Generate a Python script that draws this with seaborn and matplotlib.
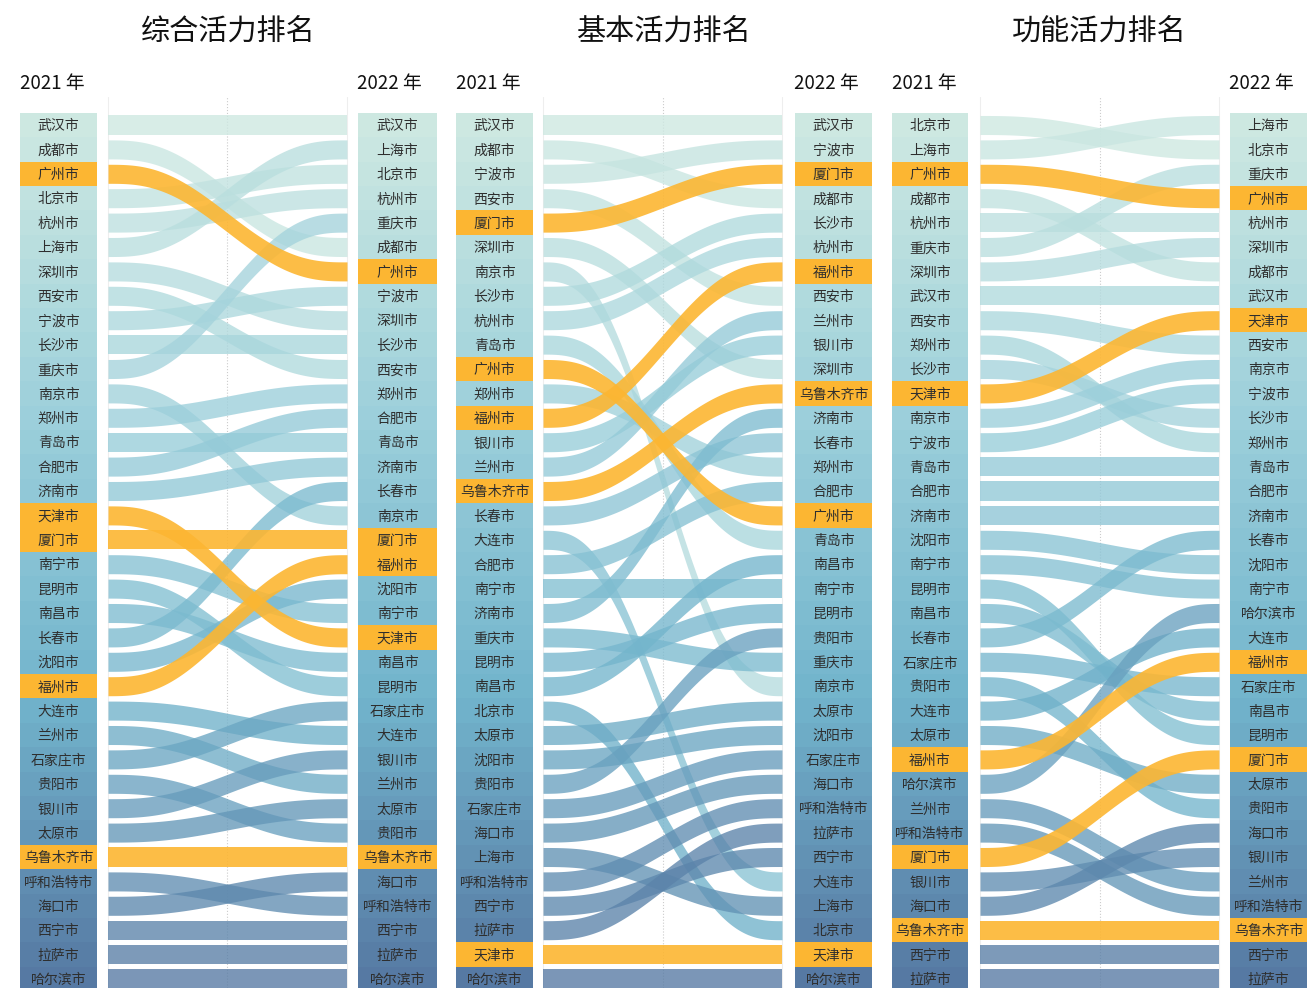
import matplotlib.pyplot as plt
import seaborn as sns
import numpy as np

# panel titles and year headers
titles = ['综合活力排名', '基本活力排名', '功能活力排名']
year_left = '2021 年'
year_right = '2022 年'

# rankings, top to bottom
overall_2021 = ['武汉市', '成都市', '广州市', '北京市', '杭州市', '上海市', '深圳市', '西安市', '宁波市',
                '长沙市', '重庆市', '南京市', '郑州市', '青岛市', '合肥市', '济南市', '天津市', '厦门市',
                '南宁市', '昆明市', '南昌市', '长春市', '沈阳市', '福州市', '大连市', '兰州市', '石家庄市',
                '贵阳市', '银川市', '太原市', '乌鲁木齐市', '呼和浩特市', '海口市', '西宁市', '拉萨市', '哈尔滨市']
overall_2022 = ['武汉市', '上海市', '北京市', '杭州市', '重庆市', '成都市', '广州市', '宁波市', '深圳市',
                '长沙市', '西安市', '郑州市', '合肥市', '青岛市', '济南市', '长春市', '南京市', '厦门市',
                '福州市', '沈阳市', '南宁市', '天津市', '南昌市', '昆明市', '石家庄市', '大连市', '银川市',
                '兰州市', '太原市', '贵阳市', '乌鲁木齐市', '海口市', '呼和浩特市', '西宁市', '拉萨市', '哈尔滨市']

basic_2021 = ['武汉市', '成都市', '宁波市', '西安市', '厦门市', '深圳市', '南京市', '长沙市', '杭州市',
              '青岛市', '广州市', '郑州市', '福州市', '银川市', '兰州市', '乌鲁木齐市', '长春市', '大连市',
              '合肥市', '南宁市', '济南市', '重庆市', '昆明市', '南昌市', '北京市', '太原市', '沈阳市',
              '贵阳市', '石家庄市', '海口市', '上海市', '呼和浩特市', '西宁市', '拉萨市', '天津市', '哈尔滨市']
basic_2022 = ['武汉市', '宁波市', '厦门市', '成都市', '长沙市', '杭州市', '福州市', '西安市', '兰州市',
              '银川市', '深圳市', '乌鲁木齐市', '济南市', '长春市', '郑州市', '合肥市', '广州市', '青岛市',
              '南昌市', '南宁市', '昆明市', '贵阳市', '重庆市', '南京市', '太原市', '沈阳市', '石家庄市',
              '海口市', '呼和浩特市', '拉萨市', '西宁市', '大连市', '上海市', '北京市', '天津市', '哈尔滨市']

func_2021 = ['北京市', '上海市', '广州市', '成都市', '杭州市', '重庆市', '深圳市', '武汉市', '西安市',
             '郑州市', '长沙市', '天津市', '南京市', '宁波市', '青岛市', '合肥市', '济南市', '沈阳市',
             '南宁市', '昆明市', '南昌市', '长春市', '石家庄市', '贵阳市', '大连市', '太原市', '福州市',
             '哈尔滨市', '兰州市', '呼和浩特市', '厦门市', '银川市', '海口市', '乌鲁木齐市', '西宁市', '拉萨市']
func_2022 = ['上海市', '北京市', '重庆市', '广州市', '杭州市', '深圳市', '成都市', '武汉市', '天津市',
             '西安市', '南京市', '宁波市', '长沙市', '郑州市', '青岛市', '合肥市', '济南市', '长春市',
             '沈阳市', '南宁市', '哈尔滨市', '大连市', '福州市', '石家庄市', '南昌市', '昆明市', '厦门市',
             '太原市', '贵阳市', '海口市', '银川市', '兰州市', '呼和浩特市', '乌鲁木齐市', '西宁市', '拉萨市']

highlight = ['广州市', '天津市', '厦门市', '福州市', '乌鲁木齐市']

rankings = [(overall_2021, overall_2022), (basic_2021, basic_2022), (func_2021, func_2022)]

sns.set_theme(style='white')
plt.rcParams['font.family'] = ['Noto Sans CJK SC', 'DejaVu Sans']

W, H = 1309, 988
fig = plt.figure(figsize=(W / 100, H / 100), dpi=100)

# layout in pixels: left column, flow area, right column
geom = [(20, 97, 108, 347, 358, 437),
        (456, 533, 543, 782, 795, 872),
        (892, 968, 980, 1219, 1230, 1307)]
row0, dy, top_px = 125, 24.4, 97


def rank_at(py):
    return (py - row0) / dy + 1


n = 36
grad = sns.blend_palette(['#cde8e1', '#9dd0db', '#72b4cc', '#5679a3'], n)
orange = '#fcb632'
text_col = '#2e2e2e'
t = np.linspace(0, 1, 200)
s = 6 * t**5 - 15 * t**4 + 10 * t**3
half = 0.39

for (l1, r1, fl, fr, l2, r2), (a, b), title in zip(geom, rankings, titles):
    ax = fig.add_axes([l1 / W, 0, (r2 - l1) / W, (H - top_px) / H])
    ax.set_xlim(l1, r2)
    ax.set_ylim(rank_at(H), rank_at(top_px))
    ax.axis('off')

    ax.axvline(fl, color='#eeeeee', lw=0.8, zorder=0)
    ax.axvline(fr, color='#eeeeee', lw=0.8, zorder=0)
    ax.axvline((fl + fr) / 2, color='#cccccc', lw=0.8, ls=':', zorder=0)

    ranks = np.arange(1, n + 1)
    cl = [orange if c in highlight else grad[i] for i, c in enumerate(a)]
    cr = [orange if c in highlight else grad[i] for i, c in enumerate(b)]
    ax.barh(ranks, r1 - l1, left=l1, height=1.0, color=cl, linewidth=0)
    ax.barh(ranks, r2 - l2, left=l2, height=1.0, color=cr, linewidth=0)
    for i in range(n):
        ax.text((l1 + r1) / 2, i + 1.05, a[i], ha='center', va='center', fontsize=10, color=text_col)
        ax.text((l2 + r2) / 2, i + 1.05, b[i], ha='center', va='center', fontsize=10, color=text_col)

    # flows, highlighted cities on top
    order = sorted(range(n), key=lambda i: a[i] in highlight)
    x = fl + t * (fr - fl)
    for i in order:
        city = a[i]
        y0, y1 = i + 1, b.index(city) + 1
        yc = y0 + (y1 - y0) * s
        hl = city in highlight
        ax.fill_between(x, yc - half, yc + half, color=orange if hl else grad[i],
                        alpha=0.9 if hl else 0.78, linewidth=0, zorder=3 if hl else 2)

    fig.text((l1 + r2) / 2 / W, 1 - 32 / H, title, ha='center', va='center', fontsize=21, color='#111111')
    fig.text(l1 / W, 1 - 84 / H, year_left, ha='left', va='center', fontsize=13.5, color='#111111')
    fig.text((l2 - 1) / W, 1 - 84 / H, year_right, ha='left', va='center', fontsize=13.5, color='#111111')

fig.savefig('out.png', dpi=100)
